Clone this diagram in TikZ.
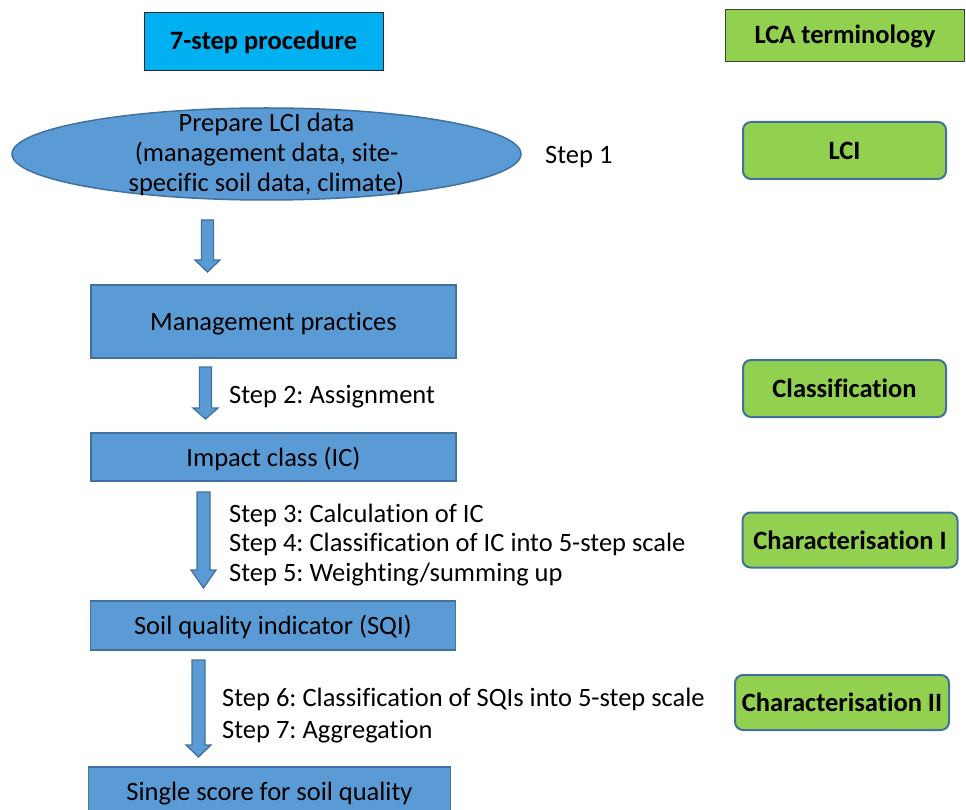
\documentclass[tikz,border=0pt]{standalone}
\usepackage{fontspec}
\setmainfont{Carlito}[Ligatures=NoCommon]
\usetikzlibrary{shapes.geometric}
\frenchspacing

\definecolor{boxblue}{HTML}{5B9BD5}
\definecolor{boxline}{HTML}{41719C}
\definecolor{headblue}{HTML}{00B0F0}
\definecolor{lcagreen}{HTML}{92D050}

\tikzset{
  procbox/.style={draw=boxline,line width=1.5pt,fill=boxblue,minimum width=365pt,text height=22pt,text depth=4pt,font=\fontsize{26.5}{31}\selectfont},
  lcabox/.style={draw=boxline,line width=2pt,fill=lcagreen,rounded corners=8pt,minimum width=203pt,minimum height=57pt,inner sep=3pt,font=\fontsize{26.5}{31}\selectfont\bfseries},
  headbox/.style={line width=1pt,minimum width=239pt,font=\fontsize{26.5}{31}\selectfont\bfseries},
  steptext/.style={anchor=west,align=left,inner sep=0pt,font=\fontsize{26.5}{29.5}\selectfont},
  arrowshape/.style={draw=boxline,line width=1.3pt,fill=boxblue,line join=miter}
}

% block arrow: x, top, tip, half shaft, head length
\newcommand{\blockarrow}[5]{%
  \draw[arrowshape] (#1-#4,#2) -- (#1+#4,#2) -- (#1+#4,#3-#5) -- (#1+12.5,#3-#5)
    -- (#1,#3) -- (#1-12.5,#3-#5) -- (#1-#4,#3-#5) -- cycle;}

\begin{document}
\begin{tikzpicture}[x=1pt,y=-1pt]
\useasboundingbox (0,0) rectangle (966,810);

% headers
\node[headbox,draw=black!85,fill=headblue,minimum height=58pt] (proc) at (263.5,42) {7-step procedure};
\node[headbox,draw=black!75,fill=lcagreen,minimum height=52pt] (term) at (845,36) {LCA terminology};

% procedure column
\node[ellipse,draw=boxline,line width=1.5pt,fill=boxblue,minimum width=509pt,minimum height=92pt,inner sep=0pt] (lci) at (266.5,154) {};
\node[align=center,inner sep=0pt,font=\fontsize{26.5}{30}\selectfont] (lcitext) at (lci.center) {Prepare LCI data\\(management data, site-\\specific soil data, climate)};
\node[anchor=west,inner sep=0pt,font=\fontsize{26.5}{31}\selectfont] (s1) at (545,157) {Step 1};

\node[procbox,minimum height=73pt] (mp) at (273.5,321.5) {Management practices};
\node[procbox,minimum height=48pt] (ic) at (273.5,457) {Impact class (IC)};
\node[procbox,minimum height=49pt] (sqi) at (273,625.5) {Soil quality indicator (SQI)};
\node[procbox,minimum height=48pt,minimum width=362pt] (ss) at (269.5,791) {Single score for soil quality};

\blockarrow{207.5}{220}{272}{6}{12}
\blockarrow{205.5}{367}{419}{6}{11}
\blockarrow{203.5}{492}{588}{6.5}{18}
\blockarrow{198.5}{660}{757}{6.5}{12}

\node[steptext] (s2) at (229,397) {Step 2: Assignment};
\node[steptext] (s35) at (229,545) {Step 3: Calculation of IC\\Step 4: Classification of IC into 5-step scale\\Step 5: Weighting/summing up};
\node[steptext,font=\fontsize{26.5}{32}\selectfont] (s67) at (222,716) {Step 6: Classification of SQIs into 5-step scale\\Step 7: Aggregation};

% LCA terminology column
\node[lcabox] (tlci) at (844.5,150.5) {LCI};
\node[lcabox] (tcls) at (844.5,388.5) {Classification};
\node[lcabox,minimum width=215pt,minimum height=55pt] (tch1) at (850,540) {Characterisation I};
\node[lcabox,minimum width=214pt,minimum height=55pt] (tch2) at (842,702.5) {Characterisation II};

\end{tikzpicture}
\end{document}
